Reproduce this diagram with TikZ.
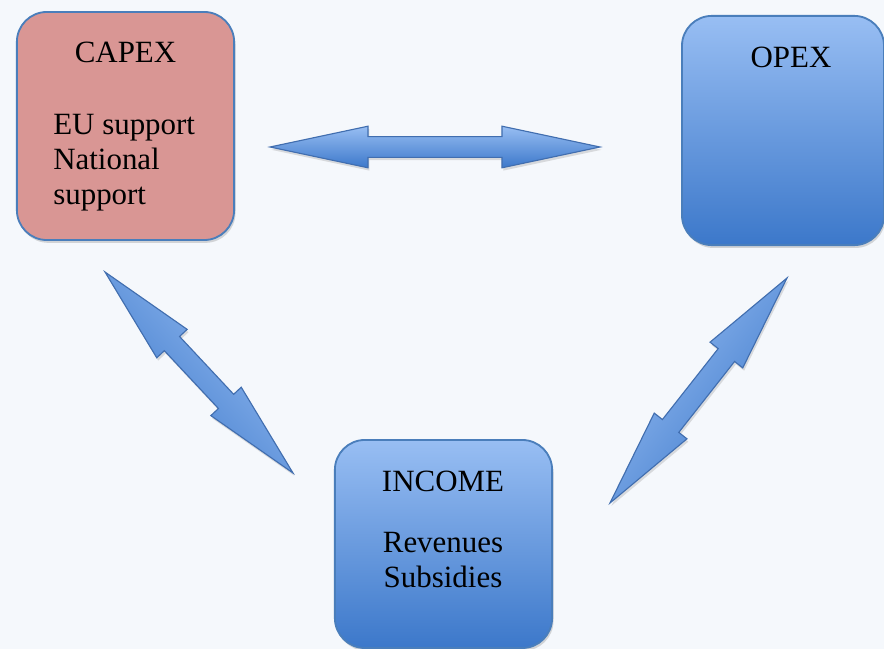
\documentclass[tikz,border=0pt]{standalone}
\usepackage{fontspec}
\setmainfont{Liberation Serif}
\newfontfamily\diagfont{Liberation Serif}
\usetikzlibrary{calc, shadows, positioning}

\definecolor{bgpaper}{RGB}{245,248,252}
\definecolor{capexred}{RGB}{217,150,148}
\definecolor{boxline}{RGB}{74,126,187}
\definecolor{bluetop}{RGB}{152,190,243}
\definecolor{bluebot}{RGB}{60,120,202}
\definecolor{arrline}{RGB}{65,110,175}

% block arrow sizes
\newcommand{\arrhead}{2.45cm}
\newcommand{\arrwing}{0.52cm}
\newcommand{\arrshaft}{0.26cm}
\newcommand{\dblarrow}[3][]{%
  \coordinate (#2-h) at ($(#2)!\arrhead!(#3)$);
  \coordinate (#3-h) at ($(#3)!\arrhead!(#2)$);
  \draw[blockarrow, #1] (#2)
    -- ($(#2-h)!\arrwing!90:(#3)$) -- ($(#2-h)!\arrshaft!90:(#3)$)
    -- ($(#3-h)!\arrshaft!-90:(#2)$) -- ($(#3-h)!\arrwing!-90:(#2)$)
    -- (#3)
    -- ($(#3-h)!\arrwing!90:(#2)$) -- ($(#3-h)!\arrshaft!90:(#2)$)
    -- ($(#2-h)!\arrshaft!-90:(#3)$) -- ($(#2-h)!\arrwing!-90:(#3)$)
    -- cycle;}

\begin{document}
\begin{tikzpicture}[
    x=0.025cm, y=-0.025cm,
    box/.style={draw=boxline, line width=1.3pt, rounded corners=0.75cm,
      drop shadow={shadow xshift=1pt, shadow yshift=-2pt, opacity=0.3}},
    redbox/.style={box, fill=capexred},
    bluebox/.style={box, top color=bluetop, bottom color=bluebot},
    blockarrow/.style={draw=arrline, line width=0.8pt, top color=bluetop, bottom color=bluebot,
      drop shadow={shadow xshift=1pt, shadow yshift=-2pt, opacity=0.25}},
    txt/.style={font=\diagfont\fontsize{22}{25}\selectfont, inner sep=0pt},
]
\useasboundingbox (0,0) rectangle (884,649);
\fill[bgpaper] (0,0) rectangle (884,649);

% boxes
\node[redbox, minimum width=5.43cm, minimum height=5.7cm] (capex) at (125.5,126) {};
\node[bluebox, minimum width=5.05cm, minimum height=5.73cm] (opex) at (783,130.5) {};
\node[bluebox, minimum width=5.43cm, minimum height=5.2cm] (income) at (443.5,544) {};

\node[txt, anchor=base] (capextitle) at (125.5,63) {CAPEX};
\node[txt, anchor=base west, align=left] (capexbody) at (53,205) {EU support\\National\\support};
\node[txt, anchor=base] (opextitle) at (791,68) {OPEX};
\node[txt, anchor=base] (incometitle) at (443,492) {INCOME};
\node[txt, anchor=base, align=center] (incomebody) at (443,588) {Revenues\\Subsidies};

% arrows
\coordinate (topL) at (270,147);
\coordinate (topR) at (600,147);
\coordinate (leftU) at (105,272);
\coordinate (leftD) at (293,473);
\coordinate (rightU) at (787,278);
\coordinate (rightD) at (610,503);

\dblarrow{topL}{topR}
\dblarrow[shading angle=-47]{leftU}{leftD}
\dblarrow[shading angle=52]{rightD}{rightU}

\end{tikzpicture}
\end{document}
